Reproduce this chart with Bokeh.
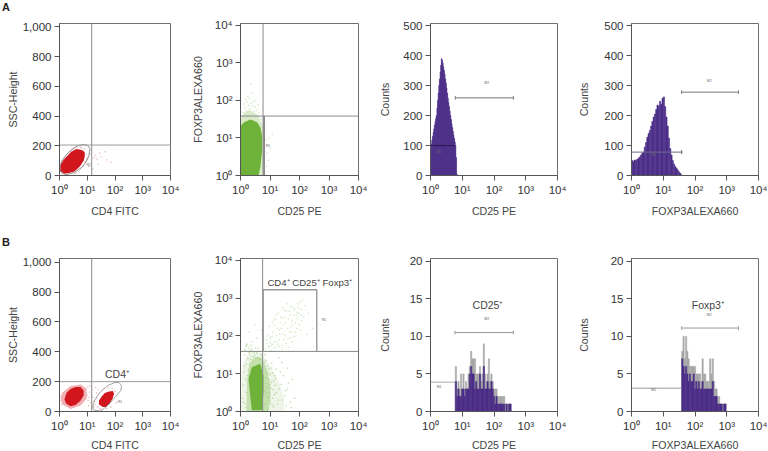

import numpy as np
from bokeh.plotting import figure
from bokeh.layouts import column, row
from bokeh.models import Range1d, FixedTicker, Div
from bokeh.core.properties import value
from bokeh.embed import file_html
from bokeh.resources import INLINE

FONT = "Liberation Sans"
RED, GREEN, PURPLE = "#d2161e", "#6fb23a", "#4a2d87"
DECADES = [0, 1, 2, 3, 4]
DECADE_LABELS = ["10⁰", "10¹", "10²", "10³", "10⁴"]
SSC_TICKS = [0, 200, 400, 600, 800, 1000]
SSC_LABELS = ["0", "200", "400", "600", "800", "1,000"]

# --- Scatter regions: log10(x), y values
a1_core_x = [.02,.156,.326,.518,.65,.76,.87,.913,.906,.822,.69,.58,.40,.28,.145,.036]
a1_core_y = [30,12,16,26,45,68,100,131,158,170,176,177,157,132,106,72]
a1_gate_x = [.01,.036,.217,.518,.822,.978,1.06,1.098,1.014,.88,.641,.337,.098,.01]
a1_gate_y = [57,26,6,19,57,98,131,182,202,209,199,158,104,57]
a1_sparse_x = [.05,.1,.12,.2,.3,.4,.5,.62,.75,.9,.97,.98,.92,.85,.7,.55,.3,.1,.22,.45,.8,1.0,.96,.75,.6,1.25,1.35,1.3,1.4,1.5,1.65,1.7,1.85,1.45,1.1,1.05,1.2]
a1_sparse_y = [40,25,100,118,145,165,185,190,190,180,140,110,90,65,30,14,8,10,6,178,184,120,95,45,20,120,110,135,75,125,160,105,90,150,145,60,45]

b1_core1_x = [.18,.236,.40,.58,.76,.87,.87,.76,.58,.40,.25]
b1_core1_y = [80,54,35,44,74,107,141,164,164,151,124]
b1_halo1_x = [.036,.11,.40,.76,.98,.98,.76,.40,.11]
b1_halo1_y = [87,47,17,40,87,154,181,171,127]
b1_core2_x = [1.424,1.558,1.667,1.81,1.91,1.967,1.92,1.786,1.63,1.52,1.424]
b1_core2_y = [47,30,30,54,85,119,137,134,124,100,74]
b1_gate_x = [1.207,1.268,1.486,1.74,1.993,2.21,2.235,2.138,1.993,1.74,1.486,1.304,1.214,1.207]
b1_gate_y = [20,7,3,40,94,141,174,194,194,174,134,87,54,20]
b1_sparse_x = [1.0,1.03,1.08,1.12,1.17,1.21,1.25,1.1,1.05,1.15,1.28,1.33,1.02,1.22,1.38,1.45,1.4,1.35,1.75,1.9,2.0,2.05,1.6,1.7,1.5,1.85,0.02,0.05,0.08,1.3,1.18,1.07]
b1_sparse_y = [110,75,130,60,150,95,70,170,40,115,45,125,165,35,30,18,145,90,160,155,135,60,150,20,18,30,70,105,50,160,25,95]

a2_core_x = [0,.61,.68,.73,.73,.68,.57,.34,.136,0]
a2_core_y = [0,0,.25,.65,1.05,1.26,1.41,1.49,1.42,1.32]
a2_halo_x = [0,.75,.8,.82,.75,.6,.3,.1,0]
a2_halo_y = [0,0,.5,1.0,1.35,1.6,1.75,1.65,1.5]
a2_sparse_x = [.08,.14,.2,.27,.33,.41,.47,.55,.62,.12,.23,.36,.5,.18,.3,.44,.35,.4,.85,.9,.97,1.02,1.08,.88,.94,.83,.6,.25,.52,.7]
a2_sparse_y = [1.68,1.8,1.72,1.86,1.78,1.84,1.7,1.74,1.66,1.9,1.95,1.92,1.82,2.02,2.05,1.97,2.42,2.2,.95,.6,1.0,.72,1.1,.25,.4,1.25,1.88,2.1,1.98,1.5]

b2_core_x = [.272,.384,.67,.782,.782,.724,.384,.33]
b2_core_y = [.866,1.173,1.263,.954,.511,.04,.03,.424]
b2_mid_x = [.2,.22,.3,.5,.72,.88,1.0,1.02,.95,.3]
b2_mid_y = [0,.8,1.28,1.45,1.42,1.15,.75,.4,0,0]
b2_halo_x = [.03,.03,.1,.3,.7,1.0,1.3,1.45,1.5]
b2_halo_y = [0,.9,1.3,1.6,1.55,1.2,.8,.4,0]
b2_low_x = [.06,.09,.12,.15,.17,.2,.22,.25,.27,.14,.18,.3,.35,.1,.24,.42,.48,.55,.6,.66,.72,.8,.85,.9,.95,1.0,1.05,1.1,1.15,1.2,1.25,1.3,1.38,1.42,1.5,1.55,1.6,1.68,1.75,1.85,.86,.92,.98,1.04,1.12,1.18,.84,.89,.96,1.02,1.09,1.16,1.22,1.28,.87,.93,1.01,1.07,.85,.91,.99,1.06,1.13,.88,.94,1.0,1.11,1.2,.3,.38,.45,.52,.6,.68,.75,.82,.2,.28,.35,.12,.16,.22,1.35,1.45,1.52,1.62,1.4,1.3,1.58,1.72]
b2_low_y = [.35,.7,1.05,.2,.85,1.25,.5,1.4,1.1,1.5,.1,1.55,1.38,.25,.95,1.45,1.5,1.55,1.42,1.38,1.48,1.3,.9,.65,1.12,.3,.78,1.02,.45,.88,.2,.6,.72,.3,.42,.15,.6,.25,.85,.35,.2,1.2,.5,1.15,.12,.7,.55,1.05,.85,.62,.35,.95,.5,.3,.75,.38,.98,.18,1.35,.05,.72,1.28,.82,.48,1.0,.22,.58,1.12,1.6,1.65,1.58,1.68,1.6,1.52,1.62,1.5,1.72,1.68,1.75,1.2,1.62,1.78,1.05,.95,.55,.75,1.3,1.42,1.15,.1]
b2_up_x = [.85,.9,.95,1.0,1.05,1.1,1.15,1.2,1.25,1.3,1.35,1.4,1.45,1.5,1.55,1.6,1.65,1.7,1.75,1.8,1.85,1.9,1.95,2.0,2.05,2.1,2.15,2.2,.92,.98,1.03,1.08,1.13,1.18,1.23,1.28,1.33,1.38,1.43,1.48,1.53,1.58,1.63,1.68,1.73,1.78,1.83,1.88,1.93,1.98,2.03,2.08,.88,.96,1.06,1.16,1.26,1.36,1.46,1.56,1.66,1.76,1.86,1.96,2.06,1.02,1.12,1.22,1.32,1.42,1.52,1.62,1.72,1.82,1.92,2.02,1.11,1.21,1.31,1.41,1.51,1.61,1.71,1.81,1.91,.2,.3,.4,.5,.6,.7,.35,.55,.15,2.3,2.45,2.25,2.7]
b2_up_y = [1.65,1.8,1.7,1.95,1.75,2.1,1.85,1.7,2.2,1.9,2.35,1.75,2.05,2.5,1.8,2.2,2.65,1.95,2.4,2.75,2.1,2.55,2.85,2.3,2.7,2.95,2.5,2.8,2.0,2.25,1.62,2.35,1.68,2.45,1.85,2.6,2.05,2.2,2.75,1.9,2.35,2.85,1.7,2.55,2.1,2.3,2.7,2.0,2.45,2.6,2.15,2.4,1.9,1.72,1.98,2.28,1.78,2.5,2.3,2.65,2.1,1.85,2.35,2.75,2.55,1.82,2.42,2.0,2.15,1.65,2.0,2.45,2.78,2.55,2.2,2.9,1.78,2.55,1.72,2.48,2.68,1.92,2.25,1.98,2.62,1.75,2.1,1.85,2.3,1.68,2.15,1.62,1.95,1.65,2.6,2.2,2.05,2.3]

# --- Histograms: bin edges in log10, heights in counts
a3_start, a3_step = 0.0, .02
a3_counts = [95,105,118,130,143,155,168,180,190,200,225,250,275,300,322,345,368,390,385,375,362,350,338,322,308,292,275,258,243,230,215,200,187,173,160,147,135,124,112,100,60,5]
a4_start, a4_step = 0.0, .04
a4_counts = [50,46,52,50,54,57,62,68,74,78,95,110,128,140,150,165,180,195,205,220,235,232,248,238,258,262,230,195,165,125,90,68,50,38,30,24,18,12,7,2]
b3_start, b3_step = .78, .04
b3_peak = [6,3,4,3,5,3,5,3,4,3,5,6,8,7,7,7,5,5,5,6,4,5,9,5,4,5,7,4,5,4,3,3,3,2,2,2,2,2,2,1,1,1,1,1]
b3_fill = [4,2,3,2,2,3,3,2,3,3,3,5,6,5,5,3,4,3,3,5,3,3,6,3,3,4,3,3,4,3,2,1,2,1,1,1,1,1,1,0,1,0,1,1]
b4_start, b4_step = 1.58, .04
b4_peak = [8,10,7,10,8,7,6,6,6,6,6,5,5,5,5,4,7,5,5,4,4,4,7,5,7,4,3,3,2,2,1,1,1,1,1]
b4_fill = [7,6,5,6,5,4,5,4,4,5,3,4,3,4,3,3,4,3,3,3,3,3,3,3,4,2,2,2,1,1,1,1,0,1,1]


def e(vals):
    return 10.0 ** np.asarray(vals, dtype=float)


def panel(width, height, left, right, top, bottom, xtitle, ytitle, ylog, ymax, yticks, ylabels, ystand, xstand=6):
    p = figure(width=width, height=height, output_backend="svg", toolbar_location=None,
               x_axis_type="log", y_axis_type="log" if ylog else "linear",
               x_range=Range1d(1, 10000), y_range=Range1d(1 if ylog else 0, ymax),
               min_border_left=left, min_border_right=right, min_border_top=top, min_border_bottom=bottom,
               x_axis_label=xtitle, y_axis_label=ytitle, background_fill_color="white", tools="")
    p.grid.visible = False
    p.outline_line_color = "#6f6f6f"
    p.outline_line_width = 1
    for ax, ticks, labels in ((p.xaxis[0], [10.0 ** d for d in DECADES], DECADE_LABELS), (p.yaxis[0], yticks, ylabels)):
        ax.ticker = FixedTicker(ticks=list(ticks), minor_ticks=[])
        ax.major_label_overrides = {t: l for t, l in zip(ticks, labels)}
        ax.major_tick_out = 5
        ax.major_tick_in = 0
        ax.minor_tick_out = 0
        ax.minor_tick_in = 0
        ax.major_tick_line_color = "#555555"
        ax.axis_line_color = "#555555"
        ax.major_label_text_font = FONT
        ax.major_label_text_font_size = "11.5px"
        ax.major_label_text_color = "#333333"
        ax.major_label_standoff = 3
        ax.axis_label_text_font = FONT
        ax.axis_label_text_font_size = "10.6px"
        ax.axis_label_text_font_style = "normal"
        ax.axis_label_text_color = "#444444"
    p.xaxis[0].axis_label_standoff = xstand
    p.yaxis[0].axis_label_standoff = ystand
    p.yaxis[0].major_label_orientation = "horizontal"
    return p


def note(p, x, y, text, size="10.5px", color="#444444"):
    p.text(x=[x], y=[y], text=[text], text_font=value(FONT), text_font_size=size, text_color=color,
           text_align="center", text_baseline="middle")


def tag(p, dec, y, text):
    note(p, 10 ** dec, y, text, size="3.5px", color="#666666")


def dots(p, xs, ys, color, alpha=.55, ylog=False):
    p.scatter(e(xs), e(ys) if ylog else ys, marker="square", size=1.3, color=color, alpha=alpha, line_width=0)


def bars(p, start, step, counts, color, alpha=1.0):
    left = e([start + i * step for i in range(len(counts))])
    right = e([start + (i + 1) * step for i in range(len(counts))])
    p.quad(left=left, right=right, bottom=0, top=counts, fill_color=color, fill_alpha=alpha,
           line_width=.5, line_color=color)


def gate(p, d0, d1, y, color="#777777"):
    p.line(e([d0, d1]), [y, y], line_color=color, line_width=1)
    h = y * 0 + (p.y_range.end * .012)
    for d in (d0, d1):
        p.line(e([d, d]), [y - h, y + h], line_color=color, line_width=1)


def letter(text, top):
    return Div(text=text, width=20, height=12, margin=(top, 0, 0, 2),
               styles={"font-family": FONT, "font-size": "11px", "font-weight": "bold",
                       "line-height": "12px", "color": "#222222"})


Y_HIST_A = [0, 100, 200, 300, 400, 500]
Y_HIST_B = [0, 5, 10, 15, 20]
LOG_TICKS = [10.0 ** d for d in DECADES]

# Row A (a 13 px caption strip sits above these figures)
pa1 = panel(185, 212, 59, 15, 10, 50, "CD4 FITC", "SSC-Height", False, 1023, SSC_TICKS, SSC_LABELS, 1)
pa1.patch(e(a1_core_x), a1_core_y, color=RED, line_width=0)
dots(pa1, a1_sparse_x, a1_sparse_y, "#dd7a7e")
pa1.line(e(a1_gate_x), a1_gate_y, line_color="#777777", line_width=.8)
pa1.line([14.5, 14.5], [0, 1023], line_color="#8a8a8a", line_width=1)
pa1.line([1, 10000], [205, 205], line_color="#9a9a9a", line_width=1)
tag(pa1, 1.05, 69, "R1")

pa2 = panel(190, 212, 55, 17, 10, 50, "CD25 PE", "FOXP3ALEXA660", True, 10 ** 4.04, LOG_TICKS, DECADE_LABELS, 8)
pa2.patch(e(a2_halo_x), e(a2_halo_y), color="#d8eac8", line_width=0)
pa2.patch(e(a2_core_x), e(a2_core_y), color=GREEN, line_width=0)
dots(pa2, a2_sparse_x, a2_sparse_y, "#a9d08a", ylog=True)
pa2.line(e([.765, .765]), e([0, 4.04]), line_color="#8a8a8a", line_width=1)
pa2.line(e([0, 4]), e([1.58, 1.58]), line_color="#8a8a8a", line_width=1)
pa2.line(e([.8, .8]), e([0, 1.58]), line_color="#777777", line_width=1.5)
tag(pa2, .93, 10 ** .79, "R5")

pa3 = panel(197, 212, 55, 15, 10, 50, "CD25 PE", "Counts", False, 507, Y_HIST_A, [str(v) for v in Y_HIST_A], 9)
bars(pa3, a3_start, a3_step, a3_counts, PURPLE)
pa3.line(e([0, .78]), [100, 100], line_color="#2a1a55", line_width=1)
gate(pa3, .78, 2.61, 259)
tag(pa3, 1.77, 307, "M2")
tag(pa3, .28, 79, "M1")

pa4 = panel(196, 212, 59, 10, 10, 50, "FOXP3ALEXA660", "Counts", False, 507, Y_HIST_A, [str(v) for v in Y_HIST_A], 11)
bars(pa4, a4_start, a4_step, a4_counts, PURPLE)
pa4.line(e([0, 0]), [0, 275], line_color=PURPLE, line_width=1)
pa4.line(e([0, 1.58]), [78, 78], line_color="#6a6a88", line_width=1)
gate(pa4, 1.58, 3.37, 278)
gate(pa4, 1.58, 1.58, 78)
tag(pa4, 2.45, 315, "M2")
tag(pa4, .7, 67, "M1")

# Row B (a 23 px caption strip sits above these figures)
pb1 = panel(185, 205, 59, 15, 10, 42, "CD4 FITC", "SSC-Height", False, 1025, SSC_TICKS, SSC_LABELS, 1, 4)
pb1.patch(e(b1_halo1_x), b1_halo1_y, color="#f0b0b2", line_width=0)
pb1.patch(e(b1_core1_x), b1_core1_y, color=RED, line_width=0)
pb1.patch(e(b1_core2_x), b1_core2_y, color=RED, line_width=0)
dots(pb1, b1_sparse_x, b1_sparse_y, "#dd7a7e")
pb1.line(e(b1_gate_x), b1_gate_y, line_color="#8a8a8a", line_width=.8)
pb1.line([14.5, 14.5], [0, 1025], line_color="#8a8a8a", line_width=1)
pb1.line([1, 10000], [200, 200], line_color="#9a9a9a", line_width=1)
note(pb1, 10 ** 2.09, 250, "CD4⁺")
tag(pb1, 2.18, 62, "R1")

pb2 = panel(190, 205, 55, 17, 10, 42, "CD25 PE", "FOXP3ALEXA660", True, 10 ** 4.05, LOG_TICKS, DECADE_LABELS, 8, 4)
pb2.patch(e(b2_halo_x), e(b2_halo_y), color="#eef5e8", line_width=0)
pb2.patch(e(b2_mid_x), e(b2_mid_y), color="#c4e0ac", line_width=0)
dots(pb2, b2_low_x, b2_low_y, "#9cc97a", alpha=.7, ylog=True)
pb2.patch(e(b2_core_x), e(b2_core_y), color=GREEN, line_width=0)
dots(pb2, b2_up_x, b2_up_y, "#a9d08a", ylog=True)
pb2.line(e([.75, .75]), e([0, 4.05]), line_color="#8a8a8a", line_width=1)
pb2.line(e([0, 4]), e([1.59, 1.59]), line_color="#8a8a8a", line_width=1)
pb2.line(e([.77, .77, 2.585, 2.585]), e([1.59, 3.224, 3.224, 1.59]), line_color="#999999", line_width=1.4)
note(pb2, 10 ** 2.347, 10 ** 3.41, "CD4⁺ CD25⁺ Foxp3⁺", size="9.6px")
tag(pb2, 2.83, 10 ** 2.43, "R5")

pb3 = panel(197, 205, 55, 15, 10, 42, "CD25 PE", "Counts", False, 20.35, Y_HIST_B, [str(v) for v in Y_HIST_B], 16, 4)
bars(pb3, b3_start, b3_step, b3_peak, "#a6a6a6")
bars(pb3, b3_start, b3_step, b3_fill, PURPLE)
pb3.line(e([0, .78]), [3.9, 3.9], line_color="#aaaaaa", line_width=1)
gate(pb3, .77, 2.61, 10.5, "#999999")
note(pb3, 10 ** 1.81, 14.2, "CD25⁺")
tag(pb3, 1.77, 12.3, "M2")
tag(pb3, .27, 3.2, "M1")

pb4 = panel(196, 205, 59, 10, 10, 42, "FOXP3ALEXA660", "Counts", False, 20.35, Y_HIST_B, [str(v) for v in Y_HIST_B], 18, 4)
bars(pb4, b4_start, b4_step, b4_peak, "#a6a6a6")
bars(pb4, b4_start, b4_step, b4_fill, PURPLE)
pb4.line(e([0, 1.58]), [3.1, 3.1], line_color="#999999", line_width=1)
gate(pb4, 1.58, 3.37, 11.1, "#999999")
note(pb4, 10 ** 2.42, 14.2, "Foxp3⁺")
tag(pb4, 2.45, 12.8, "M2")
tag(pb4, .7, 2.8, "M1")

page = column(letter("A", 1), row(pa1, pa2, pa3, pa4, spacing=0),
              letter("B", 11), row(pb1, pb2, pb3, pb4, spacing=0), spacing=0)
open("out.html", "w").write(file_html(page, INLINE))
